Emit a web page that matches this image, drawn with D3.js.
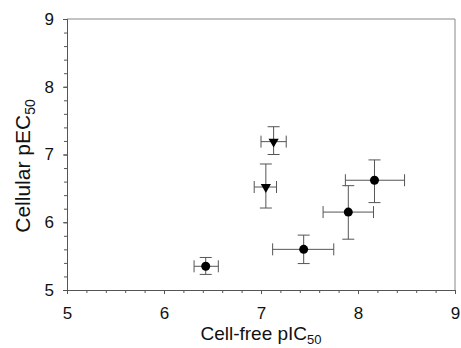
<!DOCTYPE html>
<html>
<head>
<meta charset="utf-8">
<script src="https://cdn.jsdelivr.net/npm/d3@7"></script>
<style>
  body { margin: 0; background: #fff; }
  text { font-family: "Liberation Sans", Arial, sans-serif; fill: #111; }
</style>
</head>
<body>
<svg width="461" height="348"></svg>
<script>
// circles (cell-free pIC50 vs cellular pEC50)
const circleX = [6.43, 7.44, 7.90, 8.17];
const circleY = [5.35, 5.60, 6.15, 6.62];
const circleXLo = [6.31, 7.12, 7.64, 7.87];
const circleXHi = [6.56, 7.75, 8.16, 8.48];
const circleYLo = [5.23, 5.39, 5.75, 6.29];
const circleYHi = [5.48, 5.81, 6.54, 6.92];

// down triangles
const triX = [7.13, 7.05];
const triY = [7.19, 6.52];
const triXLo = [7.00, 6.93];
const triXHi = [7.26, 7.16];
const triYLo = [7.00, 6.21];
const triYHi = [7.41, 6.86];

const xTicks = [5, 6, 7, 8, 9];
const yTicks = [5, 6, 7, 8, 9];

const mLeft = 67, mRight = 455, mTop = 19, mBottom = 290;

const svg = d3.select('svg');

const x = d3.scaleLinear().domain([5, 9]).range([mLeft, mRight]);
const y = d3.scaleLinear().domain([5, 9]).range([mBottom, mTop]);

const axisCol = '#555';

// frame (top + right)
svg.append('path')
  .attr('d', `M${mLeft},${mTop}H${mRight}V${mBottom}`)
  .attr('fill', 'none').attr('stroke', '#888').attr('stroke-width', 1);

// minor ticks
const xMinor = d3.range(5, 9.001, 0.2);
const yMinor = d3.range(5, 9.001, 0.2);

const gx = svg.append('g').attr('transform', `translate(0,${mBottom})`)
  .call(d3.axisBottom(x).tickValues(xMinor).tickSize(3).tickFormat(''));
const gx2 = svg.append('g').attr('transform', `translate(0,${mBottom})`)
  .call(d3.axisBottom(x).tickValues(xTicks).tickSize(4).tickPadding(13).tickFormat(d3.format('d')));
const gy = svg.append('g').attr('transform', `translate(${mLeft},0)`)
  .call(d3.axisLeft(y).tickValues(yMinor).tickSize(3).tickFormat(''));
const gy2 = svg.append('g').attr('transform', `translate(${mLeft},0)`)
  .call(d3.axisLeft(y).tickValues(yTicks).tickSize(4).tickPadding(9).tickFormat(d3.format('d')));

[gx, gx2, gy, gy2].forEach(g => {
  g.selectAll('path').attr('stroke', axisCol).attr('stroke-width', 1);
  g.selectAll('line').attr('stroke', axisCol).attr('stroke-width', 1);
  g.selectAll('text').attr('font-size', 17).attr('fill', '#111')
    .style('font-family', '"Liberation Sans", Arial, sans-serif');
});

// axis titles
const xt = svg.append('text')
  .attr('x', (mLeft + mRight) / 2).attr('y', 340)
  .attr('text-anchor', 'middle').attr('font-size', 19);
xt.append('tspan').text('Cell-free pIC');
xt.append('tspan').text('50').attr('font-size', 13).attr('dy', 4);

const yt = svg.append('text')
  .attr('transform', `translate(30,166) rotate(-90)`)
  .attr('text-anchor', 'middle').attr('font-size', 21);
yt.append('tspan').text('Cellular pEC');
yt.append('tspan').text('50').attr('font-size', 14).attr('dy', 5);

// error bars
const barCol = '#555';
const cap = 6;
function errBars(xs, ys, xlo, xhi, ylo, yhi) {
  const g = svg.append('g').attr('stroke', barCol).attr('stroke-width', 1).attr('fill', 'none');
  xs.forEach((d, i) => {
    const cx = x(d), cy = y(ys[i]);
    g.append('line').attr('x1', x(xlo[i])).attr('x2', x(xhi[i])).attr('y1', cy).attr('y2', cy);
    g.append('line').attr('x1', x(xlo[i])).attr('x2', x(xlo[i])).attr('y1', cy - cap).attr('y2', cy + cap);
    g.append('line').attr('x1', x(xhi[i])).attr('x2', x(xhi[i])).attr('y1', cy - cap).attr('y2', cy + cap);
    g.append('line').attr('x1', cx).attr('x2', cx).attr('y1', y(ylo[i])).attr('y2', y(yhi[i]));
    g.append('line').attr('x1', cx - cap).attr('x2', cx + cap).attr('y1', y(ylo[i])).attr('y2', y(ylo[i]));
    g.append('line').attr('x1', cx - cap).attr('x2', cx + cap).attr('y1', y(yhi[i])).attr('y2', y(yhi[i]));
  });
}
errBars(circleX, circleY, circleXLo, circleXHi, circleYLo, circleYHi);
errBars(triX, triY, triXLo, triXHi, triYLo, triYHi);

// markers
svg.append('g').selectAll('circle')
  .data(circleX.map((d, i) => [d, circleY[i]]))
  .enter().append('circle')
  .attr('cx', d => x(d[0])).attr('cy', d => y(d[1]))
  .attr('r', 4.5).attr('fill', '#000');

const tri = d3.symbol().type(d3.symbolTriangle).size(45);
svg.append('g').selectAll('path')
  .data(triX.map((d, i) => [d, triY[i]]))
  .enter().append('path')
  .attr('d', tri)
  .attr('transform', d => `translate(${x(d[0])},${y(d[1])}) rotate(180)`)
  .attr('fill', '#000');
</script>
</body>
</html>
